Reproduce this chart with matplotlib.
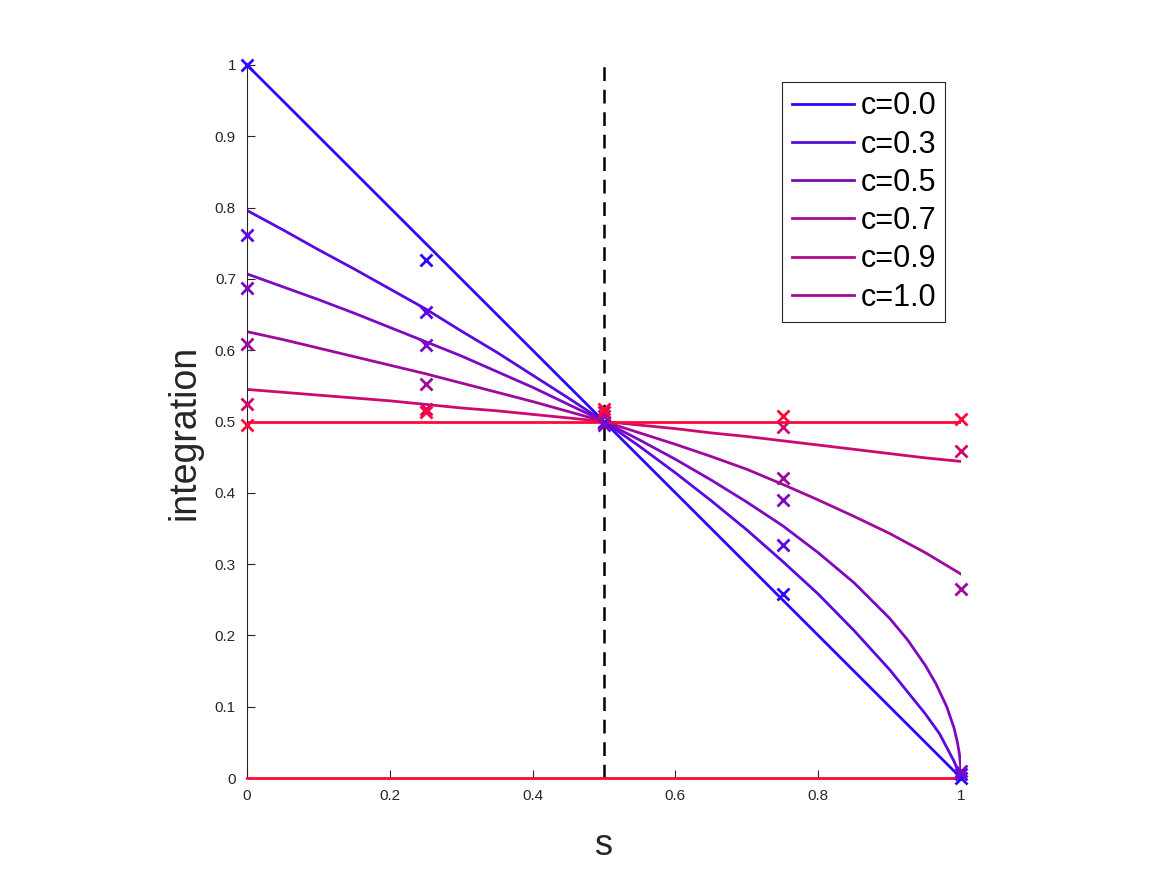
import matplotlib
matplotlib.use('Agg')
import matplotlib.pyplot as plt
from matplotlib.lines import Line2D

plt.rcParams['font.family'] = ['Liberation Sans', 'DejaVu Sans']

# curve samples
s_grid = [0, 0.05, 0.1, 0.15, 0.2, 0.25, 0.3, 0.35, 0.4, 0.45, 0.5,
          0.55, 0.6, 0.65, 0.7, 0.75, 0.8, 0.85, 0.9, 0.95, 1.0]
s_end = [0, 0.05, 0.1, 0.15, 0.2, 0.25, 0.3, 0.35, 0.4, 0.45, 0.5,
         0.55, 0.6, 0.65, 0.7, 0.75, 0.8, 0.85, 0.9, 0.95, 0.97, 0.99, 1.0]
s_violet = [0, 0.05, 0.1, 0.15, 0.2, 0.25, 0.3, 0.35, 0.4, 0.45, 0.5,
            0.55, 0.6, 0.65, 0.7, 0.75, 0.8, 0.85, 0.9, 0.925, 0.95, 0.965,
            0.98, 0.99, 0.995, 0.998, 0.9995, 1.0]

curve_blue = [1.0, 0.95, 0.9, 0.85, 0.8, 0.75, 0.7, 0.65, 0.6, 0.55, 0.5,
              0.45, 0.4, 0.35, 0.3, 0.25, 0.2, 0.15, 0.1, 0.05, 0.0]
curve_bviolet = [0.796, 0.769, 0.741, 0.714, 0.686, 0.658, 0.627, 0.597,
                 0.565, 0.533, 0.5, 0.465, 0.428, 0.389, 0.348, 0.304,
                 0.258, 0.207, 0.152, 0.090, 0.062, 0.024, 0.0]
curve_violet = [0.707, 0.689, 0.671, 0.652, 0.632, 0.612, 0.592, 0.570,
                0.548, 0.524, 0.5, 0.474, 0.447, 0.418, 0.387, 0.354, 0.316,
                0.274, 0.224, 0.194, 0.158, 0.132, 0.100, 0.071, 0.050,
                0.032, 0.016, 0.0]
curve_purple = [0.626, 0.615, 0.603, 0.591, 0.579, 0.567, 0.554, 0.541,
                0.528, 0.514, 0.5, 0.484, 0.468, 0.451, 0.433, 0.412, 0.390,
                0.367, 0.343, 0.316, 0.304, 0.292, 0.286]
curve_magenta = [0.545, 0.541, 0.537, 0.533, 0.529, 0.524, 0.519, 0.515,
                 0.510, 0.505, 0.5, 0.495, 0.490, 0.484, 0.479, 0.473, 0.467,
                 0.461, 0.455, 0.449, 0.444]
curve_half = [0.5] * len(s_grid)
curve_zero = [0.0] * len(s_grid)

# x markers
s_marks = [0, 0.25, 0.5, 0.75, 1.0]
marks_blue = [1.0, 0.727, 0.500, 0.258, 0.0]
marks_bviolet = [0.762, 0.654, 0.498, 0.327, 0.006]
marks_violet = [0.687, 0.607, 0.495, 0.390, 0.010]
marks_purple = [0.609, 0.552, 0.508, 0.421, 0.265]
marks_magenta = [0.525, 0.517, 0.513, 0.492, 0.458]
marks_red = [0.495, 0.513, 0.518, 0.508, 0.503]

legend_labels = ['c=0.0', 'c=0.3', 'c=0.5', 'c=0.7', 'c=0.9', 'c=1.0']
legend_colors = ['#2a0aff', '#5010d8', '#7a0ab8', '#a80a90', '#b00a8a',
                 '#a80a94']

c_blue = '#2a0aff'
c_bviolet = '#5a0ae0'
c_violet = '#7d0ac0'
c_purple = '#a00a9c'
c_magenta = '#cc0a70'
c_red = '#ff0a3a'

fig = plt.figure(figsize=(11.67, 8.75), dpi=100)
ax = fig.add_axes([247 / 1167, 97 / 875, 714 / 1167, 713 / 875])

lw = 2.0
ax.plot(s_grid, curve_blue, '-', color=c_blue, lw=lw)
ax.plot(s_end, curve_bviolet, '-', color=c_bviolet, lw=lw)
ax.plot(s_violet, curve_violet, '-', color=c_violet, lw=lw)
ax.plot(s_end, curve_purple, '-', color=c_purple, lw=lw)
ax.plot(s_grid, curve_magenta, '-', color=c_magenta, lw=lw)
ax.plot(s_grid, curve_half, '-', color=c_red, lw=lw)
ax.plot(s_grid, curve_zero, '-', color=c_red, lw=lw, clip_on=False,
        zorder=3)

for vals, col in [(marks_blue, c_blue), (marks_bviolet, c_bviolet),
                  (marks_violet, c_violet), (marks_purple, c_purple),
                  (marks_magenta, c_magenta), (marks_red, c_red)]:
    ax.plot(s_marks, vals, 'x', color=col, ms=8, mew=2.0, clip_on=False,
            zorder=3)

ax.plot([0.5, 0.5], [0, 1], '--', color='black', lw=1.8, dashes=(5.5, 3.5))

ax.set_xlim(0, 1)
ax.set_ylim(0, 1)
ax.set_xticks([0, 0.2, 0.4, 0.6, 0.8, 1])
ax.set_xticklabels(['0', '0.2', '0.4', '0.6', '0.8', '1'])
ax.set_yticks([i / 10 for i in range(11)])
ax.set_yticklabels(['0'] + ['0.%d' % i for i in range(1, 10)] + ['1'])
ax.spines['top'].set_visible(False)
ax.spines['right'].set_visible(False)
for sp in ['left', 'bottom']:
    ax.spines[sp].set_color('#262626')
    ax.spines[sp].set_linewidth(0.8)
ax.tick_params(axis='both', direction='in', length=6, width=0.8,
               colors='#262626', labelsize=11, pad=8)
ax.set_xlabel('s', fontsize=26, color='#262626', labelpad=18)
ax.set_ylabel('integration', fontsize=27, color='#262626')
ax.yaxis.set_label_coords(-0.062, 0.485)

handles = [Line2D([], [], color=c, lw=2.0) for c in legend_colors]
leg = ax.legend(handles, legend_labels, loc='upper right',
                bbox_to_anchor=(0.978, 0.976), borderaxespad=0,
                fontsize=22, fancybox=False, framealpha=1,
                edgecolor='#262626', handlelength=2.05, handletextpad=0.2,
                labelspacing=0.27, borderpad=0.3)
leg.get_frame().set_linewidth(0.8)

fig.savefig('out.png', dpi=100)
